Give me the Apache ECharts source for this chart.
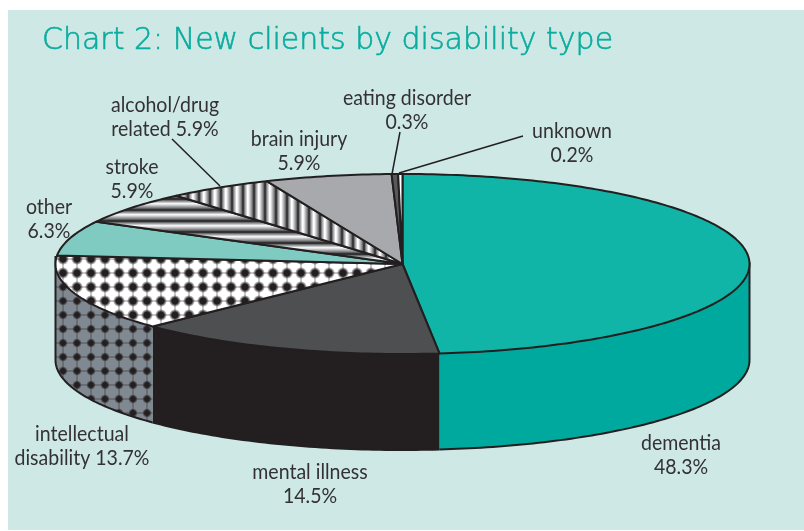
<!DOCTYPE html>
<html><head><meta charset="utf-8">
<style>html,body{margin:0;padding:0;background:#fff}#c{width:804px;height:531px}</style>
<script src="https://cdn.jsdelivr.net/npm/echarts@6/dist/echarts.min.js"></script>
</head><body><div id="c"></div>
<script>
const titleText = 'Chart 2: New clients by disability type';
const categories = ['dementia','mental illness','intellectual\ndisability','other','stroke','alcohol/drug\nrelated','brain injury','eating disorder','unknown'];
// shares as drawn by the slices (the printed label for alcohol/drug says 5.9%, its slice measures 4.9%)
const sliceShares = [48.3,14.5,13.7,6.3,5.9,4.9,5.9,0.3,0.2];
const printedPercents = ['48.3%','14.5%','13.7%','6.3%','5.9%','5.9%','5.9%','0.3%','0.2%'];
const labelSep = ['\n','\n',' ','\n','\n',' ','\n','\n','\n'];
const labelCentres = [[681,455],[310,484],[82,446],[49,219],[132,179],[165,117],[299,151],[407,110],[572,143]];
const leaderLines = [[[172,139],[220,186]],[[400,132],[392,174]],[[523,136],[399,173]]];

const CX=402.5, CY=264, RX=347, RY=90, DEPTH=96, INK='#231F20';

function tile(w,h,draw){const c=document.createElement('canvas');c.width=w;c.height=h;draw(c.getContext('2d'),w,h);return {image:c,repeat:'repeat'};}
function dots(bg,r,core){return tile(14,14,(g,w,h)=>{
  g.fillStyle=bg;g.fillRect(0,0,w,h);
  const f=g.createRadialGradient(7,7,r*0.5,7,7,r);f.addColorStop(0,core);f.addColorStop(1,core+'00');
  g.strokeStyle=core+'40';g.lineWidth=2;g.beginPath();g.moveTo(0,7);g.lineTo(14,7);g.moveTo(7,0);g.lineTo(7,14);g.stroke();
  g.fillStyle=f;g.beginPath();g.arc(7,7,r,0,7);g.fill();
});}
const ramp=['#333132','#333132','#6d6e70','#9a9b9d','#c8c9ca','#f4f4f4','#e4e4e4','#c4c5c7','#a4a5a7','#858688','#5f6062'];
const hStripes=tile(1,ramp.length,(g)=>{ramp.forEach((c,i)=>{g.fillStyle=c;g.fillRect(0,i,1,1);});});
const vStripes=tile(ramp.length,1,(g)=>{['#3a3839','#3a3839','#77787a','#a9abad','#d4d4d4','#ffffff','#f4f4f4','#d8d8d8','#b4b5b7','#939496','#6d6e70'].forEach((c,i)=>{g.fillStyle=c;g.fillRect(i,0,1,1);});});

const topFills=['#10B5A8','#4D4F51',dots('#ffffff',6,'#231f20'),'#7FCBC2',hStripes,vStripes,'#A7A9AC','#58595B','#ffffff'];
const sideFills=['#00A99D','#231F20',dots('#808991',4.8,'#231f20')];

const bounds=[0];
sliceShares.forEach(v=>bounds.push(bounds[bounds.length-1]+v*3.6));
function pt(deg,dy){const a=deg*Math.PI/180;return [CX+RX*Math.sin(a),CY-RY*Math.cos(a)+(dy||0)];}
function arc(a,b,dy){const p=[],n=Math.max(2,Math.ceil(Math.abs(b-a)));for(let i=0;i<=n;i++)p.push(pt(a+(b-a)*i/n,dy));return p;}

function renderTop(params){
  const i=params.dataIndex,a=bounds[i],b=bounds[i+1];
  const children=[{type:'polygon',shape:{points:[[CX,CY]].concat(arc(a,b))},
    style:{fill:topFills[i],stroke:INK,lineWidth:2,lineJoin:'round'}}];
  const c=labelCentres[i];
  children.push({type:'text',x:c[0],y:c[1],scaleX:0.93,style:{text:categories[i]+labelSep[i]+printedPercents[i],x:0,y:0,
    align:'center',verticalAlign:'middle',lineHeight:24,fill:'#333133',
    font:'21px Lato'}});
  return {type:'group',children};
}
function renderSide(params){
  const i=params.dataIndex,a=Math.max(bounds[i],90),b=Math.min(bounds[i+1],270);
  if(b<=a) return {type:'group',children:[]};
  const top=arc(a,b,0),bottom=arc(a,b,DEPTH);
  const ch=[{type:'polygon',shape:{points:top.concat(bottom.slice().reverse())},style:{fill:sideFills[i]||INK}},
            {type:'polyline',shape:{points:bottom},style:{fill:'none',stroke:INK,lineWidth:2}}];
  if(bounds[i]<90&&bounds[i+1]>90) ch.push({type:'line',shape:{x1:pt(90)[0],y1:pt(90)[1]-2,x2:pt(90)[0],y2:pt(90)[1]+DEPTH},style:{stroke:INK,lineWidth:2}});
  if(bounds[i]<270&&bounds[i+1]>270) ch.push({type:'line',shape:{x1:pt(270)[0],y1:pt(270)[1]-8,x2:pt(270)[0],y2:pt(270)[1]+DEPTH},style:{stroke:INK,lineWidth:2}});
  return {type:'group',children:ch};
}
function renderLeader(params){
  const l=leaderLines[params.dataIndex];
  return {type:'line',shape:{x1:l[0][0],y1:l[0][1],x2:l[1][0],y2:l[1][1]},style:{stroke:INK,lineWidth:1.5}};
}
const chart=echarts.init(document.getElementById('c'),null,{renderer:'canvas'});
chart.setOption({
  animation:false,backgroundColor:'#ffffff',
  title:{text:titleText,left:37,top:21,textStyle:{fontFamily:'"DejaVu Sans"',fontWeight:200,fontSize:30,color:'#0AAC9F',textBorderColor:'#0AAC9F',textBorderWidth:0.6}},
  graphic:[{type:'rect',z:-10,silent:true,shape:{x:8,y:10,width:796,height:520},style:{fill:'#CEE9E5'}}],
  series:[
    {type:'custom',coordinateSystem:'none',renderItem:renderSide,data:sliceShares,z:2,silent:true},
    {type:'custom',coordinateSystem:'none',renderItem:renderTop,data:sliceShares,z:3,silent:true},
    {type:'custom',coordinateSystem:'none',renderItem:renderLeader,data:leaderLines.map((l,i)=>i),z:4,silent:true}
  ]
});
</script></body></html>
